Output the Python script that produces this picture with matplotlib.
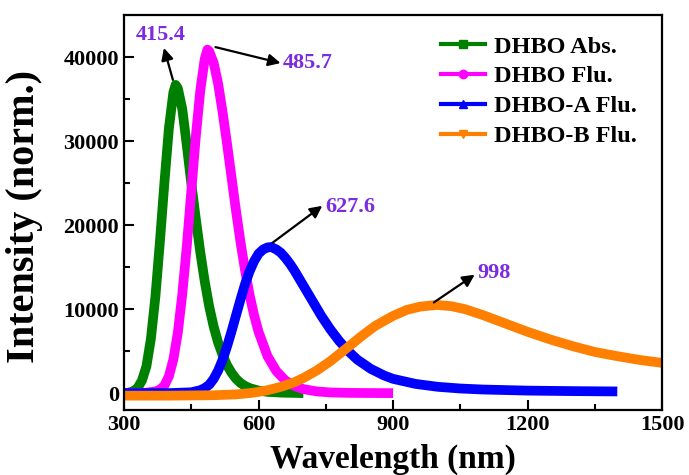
import matplotlib.pyplot as plt
from matplotlib.lines import Line2D

plt.rcParams['font.family'] = ['Liberation Serif', 'DejaVu Serif']
plt.rcParams['font.weight'] = 'bold'

# values (wavelength in nm, intensity in a.u.)
abs_wl = [300, 310, 320, 330, 340, 350, 360, 370, 380, 390, 400, 410, 415, 420, 430, 440, 450,
          460, 470, 480, 490, 500, 510, 520, 530, 540, 550, 560, 570, 580, 600, 620, 650, 700]
abs_int = [0, 50, 200, 600, 1500, 3200, 6500, 11500, 18000, 25000, 31500, 35800, 36700, 36300,
           33800, 29500, 25000, 20800, 16800, 13300, 10300, 7900, 6000, 4500, 3300, 2400, 1700,
           1200, 850, 600, 300, 150, 60, 0]

flu_wl = [300, 350, 370, 380, 390, 400, 410, 420, 430, 440, 450, 460, 470, 480, 486, 490, 500,
          510, 520, 530, 540, 550, 560, 570, 580, 590, 600, 620, 640, 660, 680, 700, 730, 760,
          800, 850, 900]
flu_int = [0, 50, 200, 400, 900, 2000, 4000, 7200, 11800, 17500, 24000, 30500, 36000, 39800,
           40900, 40700, 39300, 36800, 33400, 29600, 25600, 21600, 17900, 14600, 11700, 9300,
           7300, 4400, 2600, 1500, 850, 480, 200, 80, 30, 10, 0]

fa_wl = [300, 400, 450, 470, 480, 490, 500, 510, 520, 530, 540, 550, 560, 570, 580, 590, 600,
         610, 620, 628, 640, 650, 660, 670, 680, 690, 700, 720, 740, 760, 780, 800, 820, 850,
         880, 900, 950, 1000, 1050, 1100, 1200, 1300, 1400]
fa_int = [0, 0, 100, 350, 600, 1000, 1700, 2700, 4000, 5600, 7400, 9300, 11200, 13000, 14500,
          15700, 16600, 17100, 17350, 17400, 17100, 16700, 16100, 15400, 14600, 13700, 12800,
          11000, 9200, 7600, 6200, 5000, 4000, 2900, 2100, 1700, 1100, 750, 550, 430, 300, 240,
          200]

fb_wl = [300, 400, 500, 550, 580, 600, 620, 650, 680, 700, 730, 760, 800, 830, 860, 900, 930,
         960, 998, 1030, 1060, 1100, 1150, 1200, 1250, 1300, 1350, 1400, 1450, 1500]
fb_int = [-300, -300, -250, -150, 0, 150, 350, 750, 1300, 1800, 2700, 3800, 5500, 6800, 8000,
          9200, 9900, 10300, 10500, 10350, 10000, 9300, 8300, 7300, 6400, 5600, 4900, 4400,
          3950, 3600]

labels = ['DHBO Abs.', 'DHBO Flu.', 'DHBO-A Flu.', 'DHBO-B Flu.']
colors = ['#008000', '#ff00ff', '#0000ff', '#ff8000']
markers = ['s', 'o', '^', 'v']

# peak labels: text, arrow start (on the peak), arrow tip
peaks = ['415.4', '485.7', '627.6', '998']
arrow_from = [(409, 37300), (504, 41200), (631, 17900), (991, 10800)]
arrow_to = [(389, 41100), (649, 39300), (742, 22300), (1082, 14100)]
text_pos = [(382, 42700), (655, 39300), (749, 22200), (1089, 14300)]
text_ha = ['center', 'left', 'left', 'left']

fig = plt.figure(figsize=(6.89, 4.75), dpi=100)
ax = fig.add_axes([0.180, 0.137, 0.781, 0.831])

series = [(abs_wl, abs_int), (flu_wl, flu_int), (fa_wl, fa_int), (fb_wl, fb_int)]
for (x, y), c in zip(series, colors):
    ax.plot(x, y, color=c, lw=7, solid_joinstyle='round', solid_capstyle='butt')

for t, a, b, p, ha in zip(peaks, arrow_from, arrow_to, text_pos, text_ha):
    ax.annotate('', xy=b, xytext=a,
                arrowprops=dict(arrowstyle='-|>', color='black', lw=1.6,
                                mutation_scale=18, shrinkA=0, shrinkB=0))
    ax.text(p[0], p[1], t, color='#7b2be0', fontsize=16, fontweight='bold',
            ha=ha, va='center')

ax.set_xlim(300, 1500)
ax.set_ylim(-2000, 45000)
ax.set_xticks([300, 600, 900, 1200, 1500])
ax.set_xticks([450, 750, 1050, 1350], minor=True)
ax.set_yticks([0, 10000, 20000, 30000, 40000])
ax.set_yticks([5000, 15000, 25000, 35000], minor=True)
ax.tick_params(which='both', direction='in', width=1.5, labelsize=16)
ax.tick_params(which='major', length=7)
ax.tick_params(which='minor', length=4)
for s in ax.spines.values():
    s.set_linewidth(1.6)

ax.set_xlabel('Wavelength (nm)', fontsize=24, fontweight='bold')
ax.xaxis.set_label_coords(0.5, -0.147, transform=ax.transAxes)
ax.xaxis.label.set_va('baseline')
ax.set_ylabel('Intensity (norm.)', fontsize=29, fontweight='bold')
ax.yaxis.set_label_coords(-0.15, 0.49, transform=ax.transAxes)

handles = [Line2D([], [], color=c, marker=m, markersize=6, lw=3) for c, m in zip(colors, markers)]
ax.legend(handles, labels, loc='upper left', bbox_to_anchor=(0.640, 0.925),
          bbox_transform=fig.transFigure, frameon=False, fontsize=17.5,
          handlelength=1.8, handletextpad=0.4, labelspacing=0.32,
          borderpad=0, borderaxespad=0)

fig.savefig('out.png', dpi=100)
